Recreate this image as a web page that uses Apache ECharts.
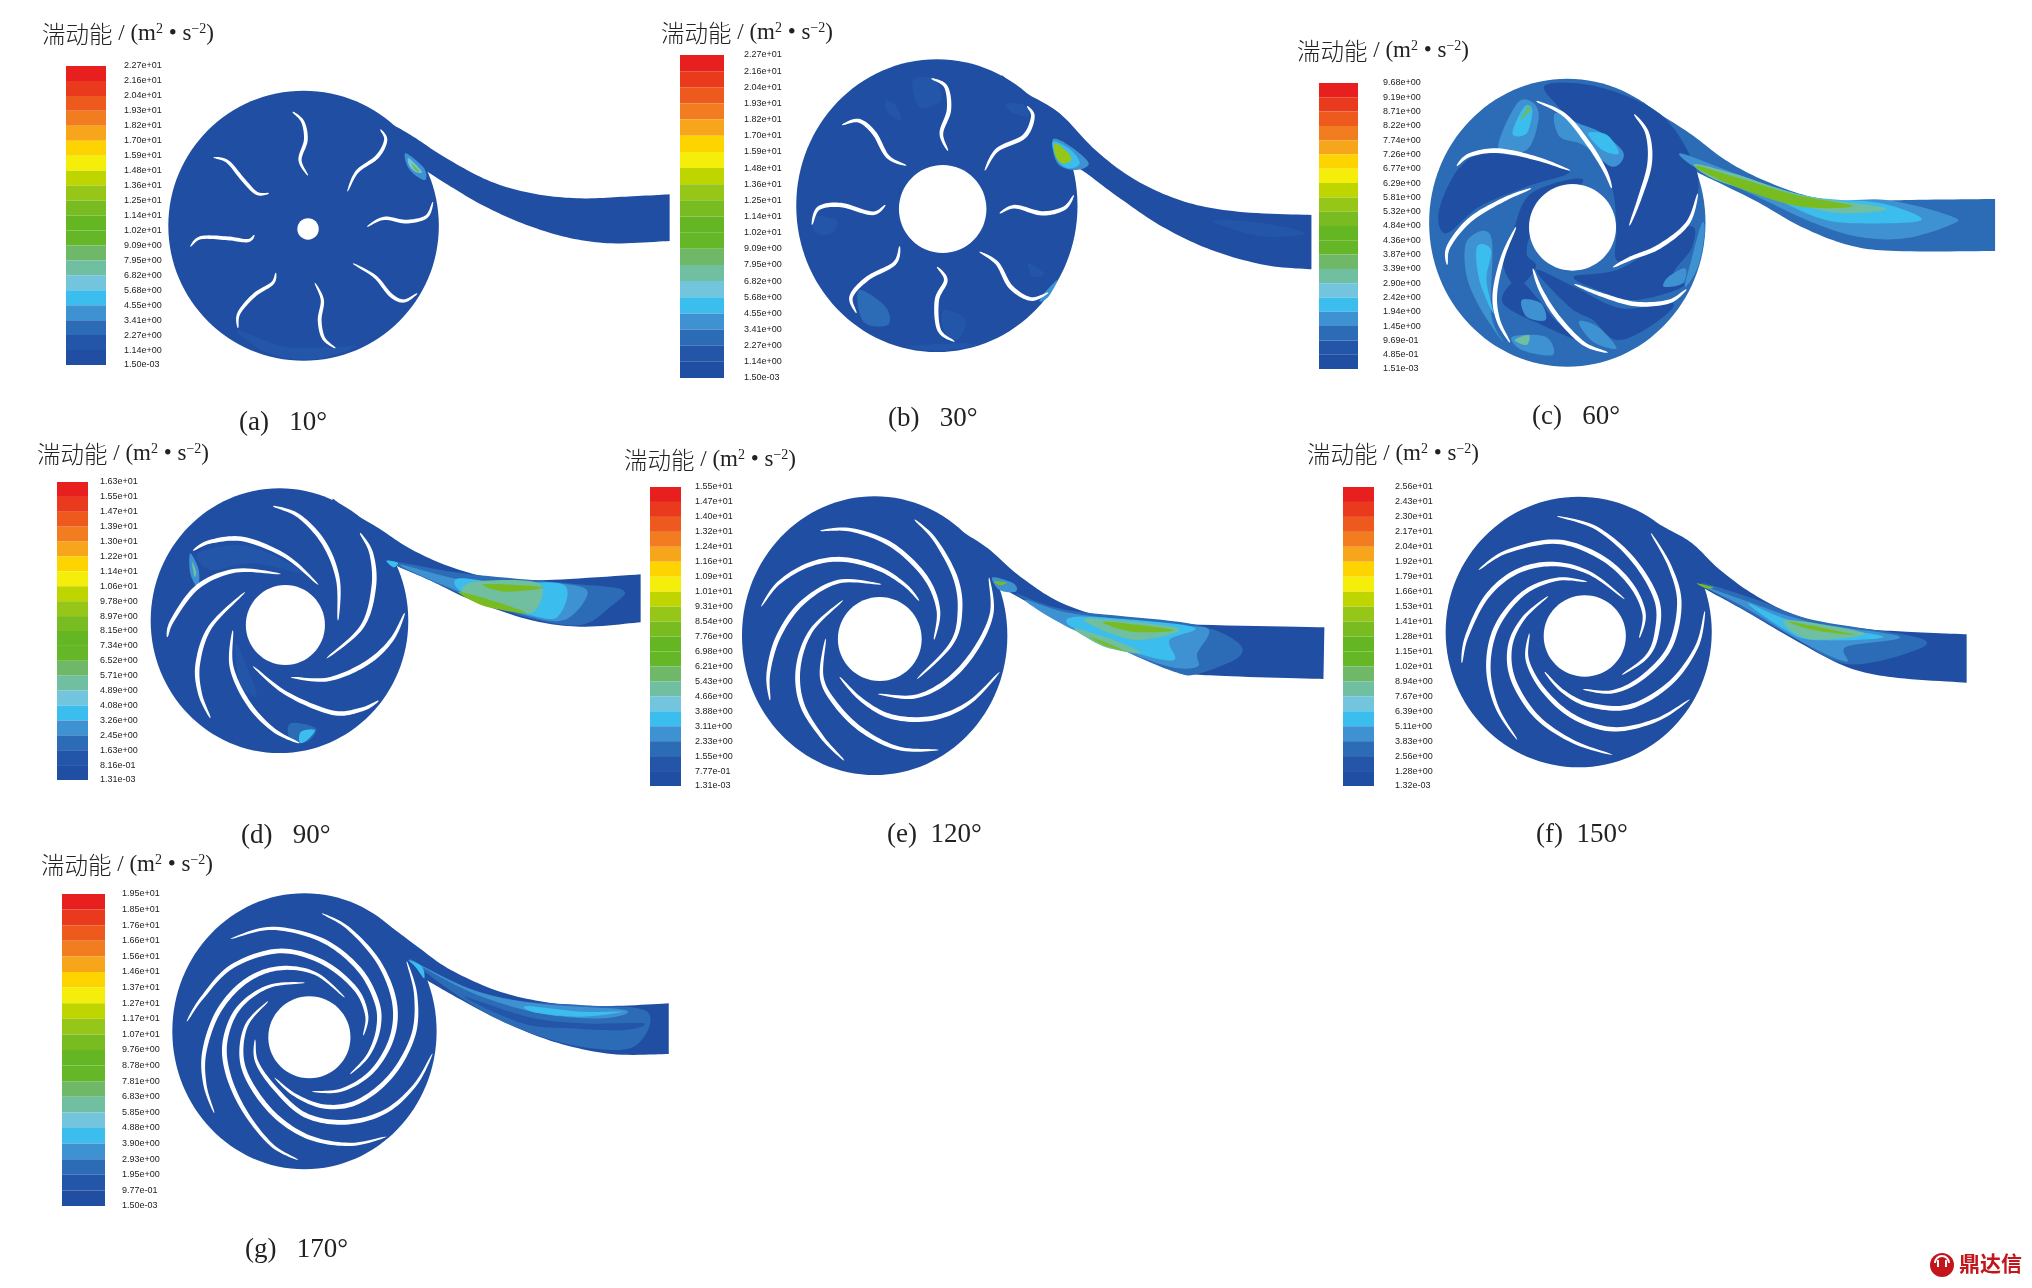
<!DOCTYPE html>
<html>
<head>
<meta charset="utf-8">
<title>湍动能</title>
<script src="https://cdn.jsdelivr.net/npm/echarts@6/dist/echarts.min.js"></script>
<style>
  html, body { margin: 0; padding: 0; background: #fff; }
  #main { width: 2032px; height: 1288px; }
</style>
</head>
<body>
<div id="main"></div>
<script>
// colour bar bands, top to bottom
const bandColors = ['#e81f1f', '#ea3a1e', '#ee5a1e', '#f27c20', '#f7a51b', '#fdd300', '#f5ee0a', '#bfd500', '#96c617', '#78bc22',
  '#64b622', '#66b728', '#6eb868', '#70bfa0', '#72c5dc', '#3bbdee', '#3f92d2', '#2c6bb5', '#2355a8', '#1f4ea3'];

const ticksA = ['2.27e+01', '2.16e+01', '2.04e+01', '1.93e+01', '1.82e+01', '1.70e+01', '1.59e+01', '1.48e+01', '1.36e+01', '1.25e+01', '1.14e+01', '1.02e+01', '9.09e+00', '7.95e+00', '6.82e+00', '5.68e+00', '4.55e+00', '3.41e+00', '2.27e+00', '1.14e+00', '1.50e-03'];
const ticksB = ticksA;
const ticksC = ['9.68e+00', '9.19e+00', '8.71e+00', '8.22e+00', '7.74e+00', '7.26e+00', '6.77e+00', '6.29e+00', '5.81e+00', '5.32e+00', '4.84e+00', '4.36e+00', '3.87e+00', '3.39e+00', '2.90e+00', '2.42e+00', '1.94e+00', '1.45e+00', '9.69e-01', '4.85e-01', '1.51e-03'];
const ticksD = ['1.63e+01', '1.55e+01', '1.47e+01', '1.39e+01', '1.30e+01', '1.22e+01', '1.14e+01', '1.06e+01', '9.78e+00', '8.97e+00', '8.15e+00', '7.34e+00', '6.52e+00', '5.71e+00', '4.89e+00', '4.08e+00', '3.26e+00', '2.45e+00', '1.63e+00', '8.16e-01', '1.31e-03'];
const ticksE = ['1.55e+01', '1.47e+01', '1.40e+01', '1.32e+01', '1.24e+01', '1.16e+01', '1.09e+01', '1.01e+01', '9.31e+00', '8.54e+00', '7.76e+00', '6.98e+00', '6.21e+00', '5.43e+00', '4.66e+00', '3.88e+00', '3.11e+00', '2.33e+00', '1.55e+00', '7.77e-01', '1.31e-03'];
const ticksF = ['2.56e+01', '2.43e+01', '2.30e+01', '2.17e+01', '2.04e+01', '1.92e+01', '1.79e+01', '1.66e+01', '1.53e+01', '1.41e+01', '1.28e+01', '1.15e+01', '1.02e+01', '8.94e+00', '7.67e+00', '6.39e+00', '5.11e+00', '3.83e+00', '2.56e+00', '1.28e+00', '1.32e-03'];
const ticksG = ['1.95e+01', '1.85e+01', '1.76e+01', '1.66e+01', '1.56e+01', '1.46e+01', '1.37e+01', '1.27e+01', '1.17e+01', '1.07e+01', '9.76e+00', '8.78e+00', '7.81e+00', '6.83e+00', '5.85e+00', '4.88e+00', '3.90e+00', '2.93e+00', '1.95e+00', '9.77e-01', '1.50e-03'];

const captions = ['(a)   10°', '(b)   30°', '(c)   60°', '(d)   90°', '(e)  120°', '(f)  150°', '(g)   170°'];

// pump outlines, read per panel: disc and hub are [cx, cy, rx, ry]
const discA = [680, 677, 303, 405], hubA = [690, 687, 24, 32];
const voluteA = [[[820, 335], [862, 362], [920, 405], [1000, 475], [1100, 545], [1200, 582], [1300, 595], [1400, 590], [1500, 583]], [[1500, 723], [1370, 730], [1270, 712], [1170, 670], [1080, 615], [1010, 560], [955, 513]]];
const bladesA = [
  [[655, 335], [678, 365], [685, 420], [672, 480], [690, 527]],
  [[852, 388], [864, 420], [845, 470], [800, 515], [778, 575]],
  [[970, 605], [955, 650], [910, 665], [860, 655], [822, 680]],
  [[935, 880], [905, 903], [875, 885], [840, 830], [790, 790]],
  [[752, 1045], [725, 1015], [716, 960], [722, 900], [705, 848]],
  [[533, 985], [535, 940], [570, 885], [610, 850], [618, 818]],
  [[426, 740], [450, 713], [510, 715], [555, 722], [570, 705]],
  [[478, 472], [510, 485], [545, 540], [575, 580], [603, 580]]];
const zonesA = [
  [18, [[530, 990], [640, 1040], [750, 1040], [800, 1040], [700, 1078], [600, 1060]]],
  [16, [[910, 460], [950, 505], [952, 540], [925, 520], [910, 490]]],
  [14, [[916, 475], [945, 515], [930, 515], [916, 495]]],
  [9, [[922, 490], [940, 515], [930, 510]]]];

const discB = [665, 617, 315, 439], hubB = [678, 627, 98, 132];
const voluteB = [[[810, 225], [860, 275], [940, 340], [1020, 450], [1110, 540], [1220, 605], [1340, 635], [1504, 645]], [[1504, 808], [1400, 795], [1280, 750], [1170, 680], [1070, 590], [1000, 520], [965, 490]]];
const bladesB = [
  [[652, 235], [685, 260], [692, 330], [675, 400], [690, 453]],
  [[867, 318], [880, 350], [860, 410], [800, 450], [772, 512]],
  [[972, 585], [950, 625], [900, 640], [840, 620], [805, 640]],
  [[915, 878], [875, 897], [830, 860], [800, 790], [760, 755]],
  [[705, 1025], [670, 990], [665, 900], [685, 840], [665, 800]],
  [[485, 940], [473, 890], [510, 835], [570, 790], [582, 738]],
  [[385, 675], [400, 625], [450, 615], [520, 640], [550, 615]],
  [[452, 375], [490, 362], [525, 400], [555, 470], [597, 497]]];
const zonesB = [
  [18, [[615, 235], [660, 240], [675, 300], [630, 325], [612, 280]]],
  [18, [[550, 300], [575, 320], [585, 360], [555, 340]]],
  [18, [[820, 310], [860, 315], [870, 350], [830, 335]]],
  [18, [[385, 650], [440, 660], [430, 700], [395, 700]]],
  [17, [[490, 870], [550, 920], [555, 975], [500, 965]]],
  [18, [[680, 930], [730, 960], [710, 1020], [680, 990]]],
  [18, [[870, 790], [905, 820], [880, 830]]],
  [16, [[905, 880], [935, 840], [915, 890], [895, 905]]],
  [18, [[1290, 660], [1400, 670], [1490, 700], [1400, 710], [1310, 680]]],
  [18, [[600, 1040], [700, 1030], [760, 1035], [670, 1052]]],
  [16, [[925, 418], [965, 440], [1005, 490], [975, 510], [935, 490]]],
  [15, [[925, 425], [965, 450], [985, 490], [960, 505], [935, 480]]],
  [8, [[930, 430], [960, 460], [965, 482], [945, 490], [930, 465]]]];

const discC = [586, 608, 292, 432], hubC = [597, 622, 92, 130];
const voluteC = [[[745, 245], [785, 285], [850, 345], [920, 420], [1000, 480], [1100, 530], [1200, 545], [1300, 540], [1490, 537]], [[1490, 693], [1280, 693], [1180, 675], [1080, 620], [980, 540], [850, 450]]];
const bladesC = [
  [[520, 243], [580, 285], [630, 370], [665, 450], [680, 505]],
  [[727, 282], [755, 340], [760, 430], [740, 530], [717, 618]],
  [[862, 520], [840, 610], [780, 680], [720, 715], [682, 742]],
  [[838, 808], [800, 845], [730, 852], [660, 825], [600, 792]],
  [[672, 998], [620, 970], [565, 890], [530, 810], [513, 745]],
  [[465, 968], [440, 900], [433, 820], [450, 710], [478, 620]],
  [[332, 735], [335, 680], [380, 600], [450, 540], [510, 505]],
  [[352, 438], [380, 405], [440, 392], [520, 415], [593, 452]]];
const zonesC = [
  [19, [[540, 195], [650, 200], [780, 280], [850, 420], [862, 520], [830, 620], [740, 700], [690, 720], [690, 620], [680, 500], [640, 370], [570, 265]]],
  [19, [[600, 770], [700, 745], [840, 620], [850, 680], [810, 760], [830, 800], [730, 840], [660, 815]]],
  [19, [[520, 750], [600, 800], [700, 865], [810, 850], [760, 920], [690, 960], [640, 900], [590, 860]]],
  [19, [[360, 440], [430, 400], [590, 450], [500, 500], [400, 560], [330, 640], [315, 570]]],
  [19, [[470, 640], [510, 520], [620, 480], [520, 620], [500, 700], [520, 740], [480, 800], [450, 730]]],
  [19, [[450, 850], [480, 780], [520, 830], [560, 900], [610, 960], [540, 920]]],
  [16, [[440, 385], [480, 250], [515, 250], [525, 300], [500, 390]]],
  [15, [[470, 340], [495, 260], [512, 270], [500, 340]]],
  [12, [[487, 300], [503, 258], [508, 270]]],
  [16, [[560, 280], [610, 310], [660, 340], [705, 400], [680, 440], [620, 375], [570, 350]]],
  [15, [[630, 340], [670, 345], [695, 400], [660, 390]]],
  [16, [[375, 660], [425, 650], [425, 880], [450, 965], [400, 860], [372, 760]]],
  [15, [[395, 680], [425, 690], [415, 780], [430, 880], [400, 780]]],
  [16, [[470, 950], [540, 950], [555, 1005], [490, 990]]],
  [13, [[475, 960], [505, 945], [500, 975]]],
  [16, [[490, 840], [530, 850], [540, 900], [500, 890]]],
  [16, [[610, 905], [650, 920], [690, 985], [640, 965]]],
  [16, [[800, 770], [835, 745], [830, 790], [790, 800]]],
  [16, [[870, 610], [876, 640], [862, 740], [835, 800], [848, 720]]],
  [16, [[825, 400], [950, 465], [1100, 540], [1260, 540], [1400, 590], [1395, 615], [1300, 655], [1200, 650], [1100, 605], [980, 525], [870, 455]]],
  [15, [[870, 450], [1000, 520], [1120, 595], [1210, 610], [1335, 600], [1250, 550], [1100, 530], [950, 470]]],
  [13, [[855, 432], [950, 466], [1080, 525], [1260, 565], [1150, 578], [1020, 530], [900, 480]]],
  [9, [[860, 437], [950, 475], [1070, 525], [1190, 558], [1080, 560], [960, 510], [880, 460]]]];

const discD = [664, 572, 306, 397], hubD = [678, 585, 94, 120];
const voluteD = [[[790, 205], [830, 242], [900, 295], [980, 360], [1080, 415], [1180, 445], [1300, 450], [1522, 433]], [[1522, 577], [1380, 590], [1260, 570], [1120, 510], [1020, 450], [930, 400]]];
const bladesD = [
  [[648, 228], [710, 258], [770, 340], [803, 450], [803, 573]],
  [[855, 308], [882, 370], [888, 470], [860, 590], [775, 686]],
  [[962, 548], [930, 630], [870, 700], [780, 748], [690, 742]],
  [[900, 812], [860, 838], [790, 848], [680, 790], [600, 708]],
  [[712, 940], [650, 900], [590, 820], [550, 710], [553, 600]],
  [[500, 865], [475, 790], [470, 700], [500, 590], [583, 485]],
  [[397, 622], [410, 570], [470, 470], [560, 422], [668, 432]],
  [[458, 362], [500, 335], [580, 328], [680, 380], [757, 465]]];
const zonesD = [
  [18, [[470, 370], [560, 345], [640, 370], [720, 430], [600, 400], [500, 420]]],
  [16, [[452, 370], [472, 420], [470, 472], [452, 430]]],
  [13, [[456, 395], [466, 425], [462, 440]]],
  [18, [[560, 640], [590, 720], [610, 800], [570, 760]]],
  [17, [[690, 880], [750, 895], [730, 935], [690, 930]]],
  [15, [[715, 905], [748, 900], [730, 930], [712, 938]]],
  [17, [[930, 395], [1100, 430], [1350, 460], [1480, 480], [1450, 530], [1380, 585], [1260, 565], [1120, 505], [1020, 450]]],
  [16, [[950, 405], [1100, 450], [1250, 455], [1380, 470], [1390, 510], [1340, 570], [1260, 560], [1120, 500]]],
  [15, [[1090, 445], [1200, 460], [1340, 465], [1325, 560], [1260, 555], [1150, 510], [1090, 480]]],
  [13, [[1130, 455], [1280, 460], [1265, 548], [1180, 522], [1100, 490]]],
  [9, [[1150, 462], [1290, 472], [1200, 485]]],
  [9, [[1090, 485], [1190, 520], [1250, 550], [1150, 528]]],
  [15, [[918, 392], [945, 398], [935, 412]]]];

const discE = [547, 587, 285, 418], hubE = [558, 597, 90, 126];
const voluteE = [[[690, 225], [730, 270], [790, 325], [860, 410], [950, 490], [1060, 535], [1200, 552], [1513, 562]], [[1511, 717], [1300, 708], [1200, 695], [1100, 640], [980, 565], [880, 490], [803, 430]]];
const bladesE = [
  [[78, 350], [130, 280], [220, 225], [320, 208], [430, 235], [510, 285], [553, 333]],
  [[255, 122], [350, 120], [470, 165], [570, 260], [610, 360], [597, 450]],
  [[538, 88], [600, 150], [660, 260], [675, 360], [650, 460], [545, 568]],
  [[762, 262], [770, 370], [720, 480], [640, 570], [540, 620], [428, 612]],
  [[795, 545], [700, 640], [590, 685], [470, 680], [380, 630], [313, 560]],
  [[612, 780], [490, 775], [380, 720], [300, 640], [260, 560], [272, 445]],
  [[328, 812], [260, 740], [200, 640], [190, 530], [230, 420], [325, 330]],
  [[105, 632], [100, 550], [130, 440], [200, 340], [310, 275], [440, 283]]];
const zonesE = [
  [17, [[850, 460], [960, 510], [1220, 550], [1320, 600], [1330, 650], [1240, 702], [1190, 695], [1080, 630], [940, 530]]],
  [16, [[870, 480], [970, 520], [1200, 555], [1265, 570], [1240, 640], [1240, 680], [1180, 680], [1070, 625], [960, 560]]],
  [15, [[960, 550], [1000, 530], [1230, 560], [1180, 600], [1190, 660], [1110, 640], [1020, 590]]],
  [13, [[1010, 535], [1200, 565], [1110, 600], [1020, 560]]],
  [13, [[975, 565], [1060, 600], [1120, 640], [1040, 620]]],
  [9, [[1040, 545], [1190, 570], [1100, 575]]],
  [9, [[1010, 590], [1090, 635], [1040, 615]]],
  [16, [[800, 412], [845, 430], [850, 455], [815, 450]]],
  [9, [[804, 424], [830, 428], [815, 436]]]];

const discF = [597, 576, 285, 406], hubF = [610, 588, 88, 122];
const voluteF = [[[740, 230], [785, 265], [840, 310], [900, 390], [980, 470], [1080, 535], [1200, 565], [1300, 575], [1428, 583]], [[1428, 728], [1270, 712], [1170, 680], [1060, 600], [950, 510], [865, 445]]];
const bladesF = [
  [[115, 240], [200, 185], [350, 155], [480, 200], [570, 280], [612, 370], [598, 445]],
  [[350, 78], [470, 115], [580, 210], [650, 330], [650, 430], [620, 500], [545, 555]],
  [[632, 128], [690, 230], [718, 340], [690, 470], [610, 560], [520, 605], [428, 598]],
  [[795, 362], [770, 470], [690, 580], [570, 650], [450, 645], [370, 605], [313, 545]],
  [[750, 628], [650, 690], [520, 718], [400, 680], [310, 600], [262, 510], [268, 430]],
  [[518, 795], [400, 755], [290, 680], [220, 570], [210, 470], [250, 385], [325, 318]],
  [[232, 750], [170, 650], [145, 530], [170, 410], [250, 310], [350, 268], [442, 275]],
  [[65, 520], [80, 440], [140, 320], [230, 245], [340, 222], [450, 250], [555, 328]]];
const zonesF = [
  [17, [[860, 430], [980, 480], [1100, 540], [1330, 595], [1300, 640], [1170, 672], [1060, 595], [950, 508]]],
  [16, [[865, 440], [950, 480], [1090, 545], [1285, 590], [1170, 620], [1170, 665], [1080, 610], [950, 500]]],
  [15, [[960, 490], [1060, 545], [1250, 590], [1100, 600], [1040, 570]]],
  [13, [[1040, 540], [1210, 580], [1090, 597]]],
  [9, [[1050, 545], [1190, 585], [1100, 570]]],
  [9, [[850, 430], [885, 442], [870, 445]]]];

const discG = [682, 544, 296, 414], hubG = [693, 562, 92, 123];
const voluteG = [[[835, 195], [880, 235], [940, 295], [1010, 360], [1120, 425], [1240, 460], [1360, 468], [1498, 460]], [[1498, 612], [1370, 612], [1240, 575], [1120, 510], [1020, 440], [945, 382]]];
const bladesG = [
  [[65, 410], [110, 340], [200, 245], [340, 198], [470, 230], [570, 310], [605, 390], [595, 452]],
  [[195, 162], [320, 130], [470, 165], [580, 250], [635, 350], [640, 430], [610, 510], [555, 568]],
  [[470, 85], [550, 130], [640, 230], [688, 350], [680, 460], [620, 560], [530, 615], [440, 620]],
  [[725, 228], [752, 330], [745, 450], [680, 570], [580, 650], [480, 665], [390, 630], [328, 578]],
  [[803, 505], [750, 600], [660, 680], [540, 712], [420, 690], [330, 610], [275, 530], [270, 463]],
  [[665, 755], [560, 778], [440, 760], [340, 700], [265, 610], [230, 520], [245, 420], [310, 348]],
  [[400, 825], [320, 780], [240, 680], [190, 570], [180, 470], [220, 370], [310, 305], [420, 293]],
  [[148, 685], [120, 600], [118, 500], [160, 380], [240, 290], [340, 250], [450, 265], [540, 338]]];
const zonesG = [
  [17, [[915, 325], [1020, 400], [1150, 450], [1300, 465], [1450, 485], [1420, 590], [1300, 590], [1160, 535], [1040, 450]]],
  [18, [[1040, 440], [1180, 500], [1300, 520], [1440, 520], [1400, 540], [1280, 535], [1170, 520]]],
  [16, [[920, 330], [1060, 420], [1200, 460], [1400, 480], [1350, 505], [1210, 490], [1060, 430]]],
  [15, [[1180, 468], [1300, 485], [1395, 485], [1300, 500], [1200, 488]]],
  [15, [[915, 330], [945, 350], [950, 385], [930, 350]]]];

const closeScale = [840, 870];
const panels = [
  { crop: [0, 0, 700, 440], scale: [1568, 1320], disc: discA, hub: hubA, volute: voluteA, blades: bladesA, zones: zonesA, base: 19, blade: 3.8, ticks: ticksA, bar: [66, 66, 40, 299], tickLeft: 124, title: [42, 22], cap: [239, 409] },
  { crop: [640, 0, 700, 440], scale: [1568, 1320], disc: discB, hub: hubB, volute: voluteB, blades: bladesB, zones: zonesB, base: 19, blade: 4.4, ticks: ticksB, bar: [680, 55, 44, 323], tickLeft: 744, title: [661, 21], cap: [888, 405] },
  { crop: [1290, 20, 742, 420], scale: [1568, 1260], disc: discC, hub: hubC, volute: voluteC, blades: bladesC, zones: zonesC, base: 17, blade: 4.6, ticks: ticksC, bar: [1319, 83, 39, 286], tickLeft: 1383, title: [1297, 39], cap: [1532, 403] },
  { crop: [0, 430, 660, 430], scale: [1568, 1290], disc: discD, hub: hubD, volute: voluteD, blades: bladesD, zones: zonesD, base: 19, blade: 4.6, ticks: ticksD, bar: [57, 482, 31, 298], tickLeft: 100, title: [37, 442], cap: [241, 822] },
  { crop: [620, 440, 730, 420], scale: [1568, 1260], disc: discE, hub: hubE, volute: voluteE, blades: bladesE, bladeCrop: [735, 490, 280, 290], zones: zonesE, base: 19, blade: 4.8, ticks: ticksE, bar: [650, 487, 31, 299], tickLeft: 695, title: [624, 448], cap: [887, 821] },
  { crop: [1300, 440, 732, 420], scale: [1568, 1260], disc: discF, hub: hubF, volute: voluteF, blades: bladesF, bladeCrop: [1440, 490, 280, 290], zones: zonesF, base: 19, blade: 4.8, ticks: ticksF, bar: [1343, 487, 31, 299], tickLeft: 1395, title: [1307, 442], cap: [1536, 821] },
  { crop: [0, 850, 700, 438], scale: [1568, 1314], disc: discG, hub: hubG, volute: voluteG, blades: bladesG, bladeCrop: [165, 885, 280, 290], zones: zonesG, base: 19, blade: 4.8, ticks: ticksG, bar: [62, 894, 43, 312], tickLeft: 122, title: [41, 853], cap: [245, 1236] }
];

// catmull-rom through the read points, in pixels
function spline(pts, closed) {
  const out = [];
  const n = pts.length;
  const at = i => closed ? pts[(i + n) % n] : pts[Math.max(0, Math.min(n - 1, i))];
  const segs = closed ? n : n - 1;
  for (let i = 0; i < segs; i++) {
    const p0 = at(i - 1), p1 = at(i), p2 = at(i + 1), p3 = at(i + 2);
    for (let k = 0; k < 12; k++) {
      const t = k / 12, t2 = t * t, t3 = t2 * t;
      out.push([0, 1].map(d => 0.5 * (2 * p1[d] + (p2[d] - p0[d]) * t + (2 * p0[d] - 5 * p1[d] + 4 * p2[d] - p3[d]) * t2 + (3 * p1[d] - p0[d] - 3 * p2[d] + p3[d]) * t3)));
    }
  }
  if (!closed) out.push(pts[n - 1]);
  return out;
}

function bladeOutline(line, maxW) {
  const c = spline(line, false);
  const a = [], b = [];
  c.forEach((p, i) => {
    const p0 = c[Math.max(0, i - 1)], p1 = c[Math.min(c.length - 1, i + 1)];
    const dx = p1[0] - p0[0], dy = p1[1] - p0[1], len = Math.hypot(dx, dy) || 1;
    const w = maxW / 2 * Math.pow(Math.sin(Math.PI * i / (c.length - 1)), 0.5);
    a.push([p[0] - dy / len * w, p[1] + dx / len * w]);
    b.unshift([p[0] + dy / len * w, p[1] - dx / len * w]);
  });
  return a.concat(b);
}

const grid = [], xAxis = [], yAxis = [], series = [], title = [];
const latin = '"Liberation Serif", serif';

function addFrame(rect, scale) {
  grid.push({ left: rect[0], top: rect[1], width: rect[2], height: rect[3] });
  xAxis.push({ type: 'value', gridIndex: grid.length - 1, min: 0, max: scale[0], show: false });
  yAxis.push({ type: 'value', gridIndex: grid.length - 1, min: 0, max: scale[1], inverse: true, show: false });
  return { x: xAxis.length - 1, y: yAxis.length - 1 };
}

function bodySeries(p, frame) {
  const shapes = [];
  shapes.push({ kind: 'volute', color: bandColors[p.base] });
  shapes.push({ kind: 'disc', ring: p.disc, color: bandColors[p.base] });
  p.zones.forEach(z => shapes.push({ kind: 'zone', pts: z[1], color: bandColors[z[0]] }));
  shapes.push({ kind: 'disc', ring: p.hub, color: '#fff' });
  return {
    type: 'custom', coordinateSystem: 'cartesian2d',
    xAxisIndex: frame.x, yAxisIndex: frame.y,
    silent: true, clip: false,
    data: shapes.map(() => [0, 0]),
    renderItem: function (params, api) {
      const s = shapes[params.dataIndex];
      const toPx = q => api.coord(q);
      if (s.kind === 'disc') {
        const c = toPx([s.ring[0], s.ring[1]]);
        const sz = api.size([s.ring[2], s.ring[3]]);
        return { type: 'ellipse', shape: { cx: c[0], cy: c[1], rx: sz[0], ry: sz[1] }, style: { fill: s.color } };
      }
      if (s.kind === 'volute') {
        const pts = spline(p.volute[0].map(toPx), false).concat(spline(p.volute[1].map(toPx), false));
        pts.push(toPx([p.disc[0] + p.disc[2] * 0.5, p.disc[1]]));
        return { type: 'polygon', shape: { points: pts }, style: { fill: s.color } };
      }
      return { type: 'polygon', shape: { points: spline(s.pts.map(toPx), true) }, style: { fill: s.color } };
    }
  };
}

function bladeSeries(p, frame) {
  return {
    type: 'custom', coordinateSystem: 'cartesian2d',
    xAxisIndex: frame.x, yAxisIndex: frame.y,
    silent: true, clip: false,
    data: p.blades.map(() => [0, 0]),
    renderItem: function (params, api) {
      const line = p.blades[params.dataIndex].map(q => api.coord(q));
      return { type: 'polygon', shape: { points: bladeOutline(line, p.blade) }, style: { fill: '#fff' } };
    }
  };
}

panels.forEach((p, i) => {
  // pump, axes in units
  const frame = addFrame(p.crop, p.scale);
  series.push(bodySeries(p, frame));
  series.push(bladeSeries(p, p.bladeCrop ? addFrame(p.bladeCrop, closeScale) : frame));

  // colour bar
  grid.push({ left: p.bar[0], top: p.bar[1], width: p.bar[2], height: p.bar[3] });
  const g = grid.length - 1;
  xAxis.push({ type: 'value', gridIndex: g, min: 0, max: 1, show: false });
  yAxis.push({ type: 'category', gridIndex: g, data: bandColors.map((c, k) => k), inverse: true, show: false });
  series.push({
    type: 'bar',
    xAxisIndex: xAxis.length - 1, yAxisIndex: yAxis.length - 1,
    barWidth: '100%', silent: true,
    data: bandColors.map(c => ({ value: 1, itemStyle: { color: c } }))
  });
  yAxis.push({
    type: 'value', gridIndex: g, position: 'right', inverse: true, min: 0, max: 20, interval: 1,
    axisLine: { show: false }, axisTick: { show: false }, splitLine: { show: false },
    axisLabel: {
      margin: p.tickLeft - p.bar[0] - p.bar[2], align: 'left', fontSize: 9, color: '#222',
      fontFamily: '"Liberation Sans", sans-serif',
      formatter: v => p.ticks[v]
    }
  });

  title.push({
    left: p.title[0], top: p.title[1], padding: 0,
    text: '{h|湍动能}{t| / (m}{s|2}{t| • s}{s|−2}{t|)}',
    textStyle: {
      rich: {
        h: { fontFamily: '"Noto Sans CJK SC"', fontSize: 23.5, fontWeight: 300, color: '#222' },
        t: { fontFamily: latin, fontSize: 23, fontWeight: 'normal', color: '#222' },
        s: { fontFamily: latin, fontSize: 14, fontWeight: 'normal', color: '#222', verticalAlign: 'top' }
      }
    }
  });
  title.push({
    left: p.cap[0], top: p.cap[1], padding: 0, text: captions[i],
    textStyle: { fontFamily: latin, fontSize: 27, fontWeight: 'normal', color: '#222' }
  });
});

title.push({
  left: 1959, top: 1253, padding: 0, text: '鼎达信',
  textStyle: { fontFamily: '"Noto Sans CJK SC"', fontSize: 21, fontWeight: 'bold', color: '#c3161c' }
});

const myChart = echarts.init(document.getElementById('main'));
myChart.setOption({
  animation: false,
  backgroundColor: '#fff',
  title: title,
  grid: grid,
  xAxis: xAxis,
  yAxis: yAxis,
  series: series,
  graphic: [
    { type: 'circle', shape: { cx: 1942, cy: 1265, r: 12 }, style: { fill: '#c3161c' } },
    { type: 'arc', shape: { cx: 1942, cy: 1263, r: 7, startAngle: Math.PI, endAngle: 0 }, style: { stroke: '#fff', lineWidth: 2, fill: null } },
    { type: 'rect', shape: { x: 1937, y: 1260, width: 2, height: 7 }, style: { fill: '#fff' } },
    { type: 'rect', shape: { x: 1945, y: 1260, width: 2, height: 7 }, style: { fill: '#fff' } }
  ]
});
</script>
</body>
</html>
